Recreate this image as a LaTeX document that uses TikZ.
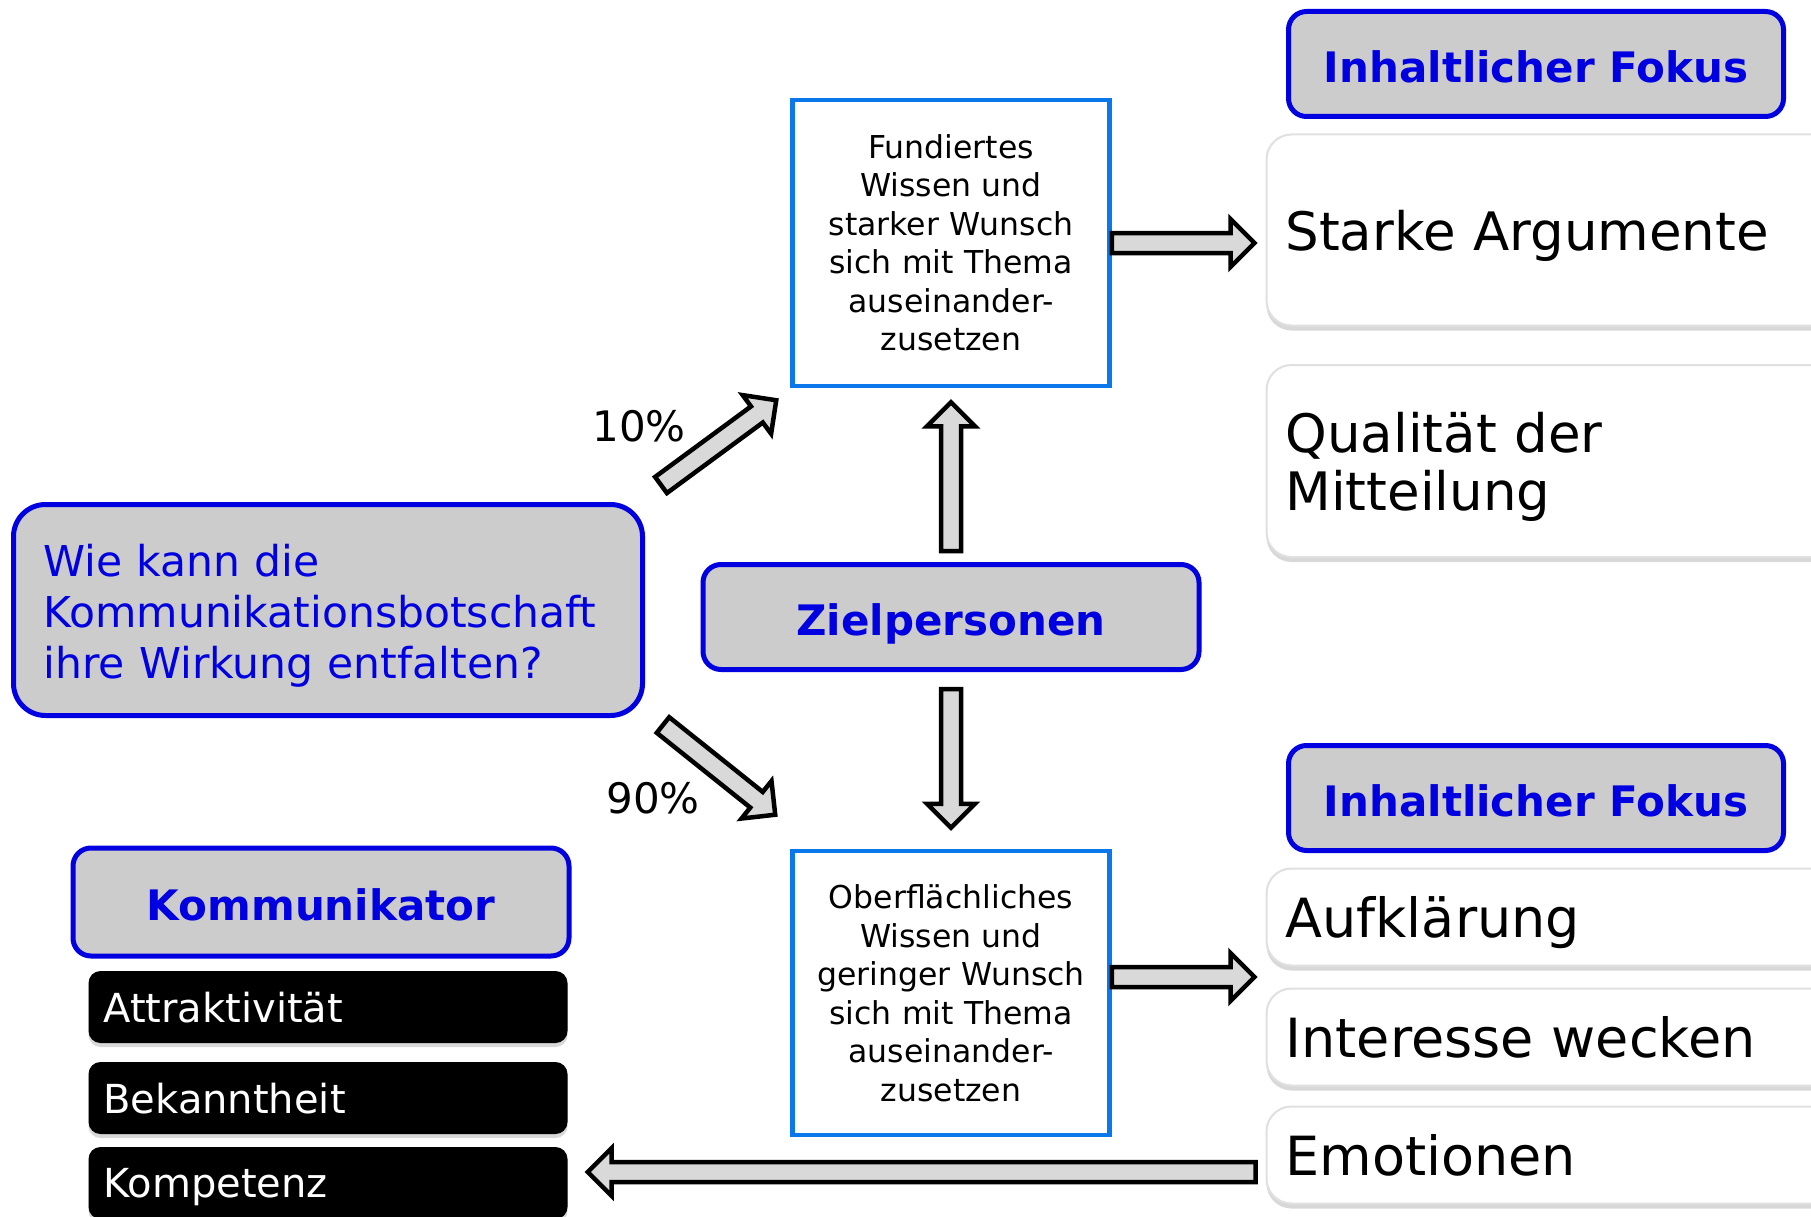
\documentclass[tikz,border=0pt]{standalone}
\usepackage{fontspec}
\setmainfont{DejaVu Sans}
\usetikzlibrary{calc}
\usetikzlibrary{shadows}

\definecolor{headblue}{RGB}{0,0,225}
\definecolor{frameblue}{RGB}{10,120,235}
\definecolor{headgrey}{RGB}{204,204,204}
\definecolor{arrowgrey}{RGB}{217,217,217}

\tikzset{
  headbox/.style={draw=headblue, fill=headgrey, line width=5pt, rounded corners=18pt, text=headblue,
    font=\bfseries\fontsize{42}{50}\selectfont, minimum width=495pt, minimum height=105pt, inner sep=0pt,
    text height=36.5pt, text depth=0pt},
  framebox/.style={draw=frameblue, fill=white, line width=4.5pt, minimum width=317pt, minimum height=286pt,
    text width=300pt, align=center, inner sep=0pt, font=\fontsize{31.5}{38.5}\selectfont},
  whitebox/.style={draw=black!12, fill=white, line width=2pt, rounded corners=25pt, minimum width=573pt,
    text width=535pt, inner xsep=19pt, inner ysep=0pt, align=left, font=\fontsize{53}{58}\selectfont,
    text depth=0pt, drop shadow={shadow xshift=0pt, shadow yshift=-5pt, opacity=.3}},
  blackbox/.style={fill=black, rounded corners=12pt, minimum width=479pt, minimum height=72pt,
    text width=449pt, inner xsep=15pt, inner ysep=0pt, align=left, text=white, text depth=0pt,
    font=\fontsize{40}{48}\selectfont, drop shadow={shadow xshift=0pt, shadow yshift=-4pt, opacity=.3}},
  arrowbody/.style={draw=black, fill=arrowgrey, line width=4.5pt},
  pct/.style={font=\fontsize{42}{50}\selectfont, inner sep=0pt}
}

% block arrow from #1 (tail) to #2 (tip)
\newcommand{\fatarrow}[2]{%
  \coordinate (ArrTail) at #1;
  \coordinate (ArrTip) at #2;
  \coordinate (ArrNeck) at ($(ArrTip)!24pt!(ArrTail)$);
  \draw[arrowbody] ($(ArrTail)!10pt!90:(ArrTip)$) -- ($(ArrNeck)!10pt!90:(ArrTip)$)
    -- ($(ArrNeck)!24pt!90:(ArrTip)$) -- (ArrTip)
    -- ($(ArrNeck)!24pt!-90:(ArrTip)$) -- ($(ArrNeck)!10pt!-90:(ArrTip)$)
    -- ($(ArrTail)!10pt!-90:(ArrTip)$) -- cycle;
}

\begin{document}
\begin{tikzpicture}[x=1pt, y=-1pt]

\useasboundingbox (0,0) rectangle (1811,1217);
\clip (0,0) rectangle (1811,1217);
\fill[white] (0,0) rectangle (1811,1217);

% right column
\node[headbox] (FokusTop) at (1536,64) {Inhaltlicher Fokus};
\node[whitebox, minimum height=191pt] (Starke) at (1553,230) {Starke Argumente};
\node[whitebox, minimum height=192pt, text height=52pt, text depth=] (Qualitaet) at (1553,461) {Qualität der\\Mitteilung};

\node[headbox] (FokusBottom) at (1536,798) {Inhaltlicher Fokus};
\node[whitebox, minimum height=97pt, font=\fontsize{54}{60}\selectfont] (Aufkl) at (1553,917) {Aufklärung};
\node[whitebox, minimum height=97pt, font=\fontsize{54}{60}\selectfont] (Interesse) at (1553,1037) {Interesse wecken};
\node[whitebox, minimum height=97pt, font=\fontsize{54}{60}\selectfont] (Emot) at (1553,1155) {Emotionen};

% middle column
\node[framebox] (Fund) at (951,243) {Fundiertes\\Wissen und\\starker Wunsch\\sich mit Thema\\auseinander-\\zusetzen};
\node[headbox, minimum width=496pt] (Ziel) at (951,617) {Zielpersonen};
\node[framebox, minimum height=284pt] (Oberfl) at (951,993) {Oberflächliches\\Wissen und\\geringer Wunsch\\sich mit Thema\\auseinander-\\zusetzen};

% left column
\node[headbox, minimum width=629pt, minimum height=211pt, rounded corners=32pt, text width=569pt,
  inner xsep=30pt, align=left, font=\fontsize{42.5}{51.4}\selectfont, text height=44pt, text depth=] (Wie) at (328,610)
  {Wie kann die\\Kommunikationsbotschaft\\ihre Wirkung entfalten?};
\node[headbox, minimum width=496pt, minimum height=108pt] (Komm) at (321,902) {Kommunikator};
\node[blackbox] (Attr) at (328,1007) {Attraktivität};
\node[blackbox] (Bek) at (328,1098) {Bekanntheit};
\node[blackbox] (Komp) at (328,1183) {Kompetenz};

\node[pct] (Pct10) at (639,426) {10\%};
\node[pct] (Pct90) at (653,798) {90\%};

% arrows
\fatarrow{($(Wie.north east)+(16,-17)$)}{($(Fund.south west)+(-14,12)$)}
\fatarrow{($(Wie.south east)+(18,7)$)}{($(Oberfl.north west)+(-15,-34)$)}
\fatarrow{($(Ziel.north)+(0,-11)$)}{($(Fund.south)+(0,14)$)}
\fatarrow{($(Ziel.south)+(0,17)$)}{($(Oberfl.north)+(0,-21)$)}
\fatarrow{(Fund.east)}{($(Fund.east -| Starke.west)+(-11,0)$)}
\fatarrow{($(Oberfl.east)+(0,-16)$)}{($(Oberfl.east -| Aufkl.west)+(-11,-16)$)}
\fatarrow{($(Emot.west)+(-10,17)$)}{($(Komp.east)+(20,-11)$)}

\end{tikzpicture}
\end{document}
